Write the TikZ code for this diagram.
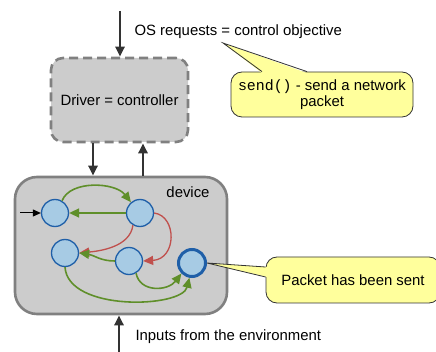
\documentclass[tikz,border=0pt]{standalone}
\usepackage{fontspec}
\setmainfont{Liberation Sans}
\setmonofont{Liberation Mono}
\usetikzlibrary{arrows.meta,calc}

\definecolor{boxgray}{HTML}{CCCCCC}
\definecolor{edgegray}{HTML}{808080}
\definecolor{darkarrow}{HTML}{333333}
\definecolor{statefill}{HTML}{A7CBE4}
\definecolor{stateline}{HTML}{1F5FA8}
\definecolor{gotogreen}{HTML}{5F8F2A}
\definecolor{gotored}{HTML}{C0504D}
\definecolor{noteyellow}{HTML}{FFFF9C}

\begin{document}
\begin{tikzpicture}[x=1pt,y=-1pt,
  font=\fontsize{14.9}{16}\selectfont,
  state/.style={circle, draw=stateline, fill=statefill, line width=1.3pt,
    minimum size=27pt, inner sep=0pt},
  finalstate/.style={state, line width=3pt, minimum size=27pt},
  flow/.style={draw=darkarrow, line width=2.7pt,
    -{Triangle[length=10pt,width=9pt]}},
  okmove/.style={draw=gotogreen, line width=1.6pt,
    -{Triangle[length=10pt,width=9pt,fill=gotogreen]}},
  failmove/.style={draw=gotored, line width=1.3pt,
    -{Triangle[length=10pt,width=9pt,fill=gotored]}},
  notebox/.style={draw=darkarrow, line width=0.8pt, fill=noteyellow,
    rounded corners=11pt, inner sep=0pt, align=center},
  noteside/.style={draw=darkarrow, line width=0.8pt, line join=miter},
]
\useasboundingbox (0,0) rectangle (436,352);

% controller and device boxes
\node[draw=edgegray, line width=2.6pt, dash pattern=on 9pt off 5pt,
      fill=boxgray, rounded corners=12pt, minimum width=137pt,
      minimum height=84pt, inner sep=0pt] (driver) at (119.5,100)
      {Driver = controller};
\node[draw=edgegray, line width=2.6pt, fill=boxgray, rounded corners=22pt,
      minimum width=212pt, minimum height=137pt] (device) at (121,245.5) {};
\node (devlabel) at (188,192) {device};

% signals between OS, driver, device and environment
\coordinate (osin) at (120,11);
\coordinate (cmdx) at (93,0);
\coordinate (statx) at (143,0);
\coordinate (envin) at (119,352);
\draw[flow] (osin) -- (osin |- driver.north);
\draw[flow] (driver.south -| cmdx) -- (device.north -| cmdx);
\draw[flow] (device.north -| statx) -- (driver.south -| statx);
\draw[flow] (envin) -- (envin |- device.south);

\node[anchor=west] (ostext) at (131,32) {OS requests = control objective};
\node[anchor=west] (envtext) at (132,337) {Inputs from the environment};

% state machine of the device
\node[state] (n1) at (55,213) {};
\node[state] (n2) at (140,213) {};
\node[state] (n3) at (65,253) {};
\node[state] (n4) at (129,261) {};
\node[finalstate] (n5) at (192,263) {};

\coordinate (start) at (20,213);
\draw[line width=1pt, -{Triangle[length=8pt,width=7pt]}] (start) -- (n1.west);

\draw[okmove] (n1.60) .. controls (70,180) and (115,182) .. (n2.130);
\draw[okmove] (n2.west) -- (n1.east);
\draw[failmove] (n2.240) .. controls (130,247) and (100,251) .. (n3.east);
\draw[failmove] (n2.east) .. controls (177,216) and (177,259) .. (n4.east);
\draw[okmove] (n4.west) .. controls (100,261) and (94,255) .. (n3.east);
\draw[okmove] (n4.300) .. controls (140,293) and (168,291) .. (n5.225);
\draw[okmove] (n3.south) .. controls (68,312) and (182,308) .. (n5.260);

% callout: send()
\coordinate (ostip) at (223,43);
\node[notebox, minimum width=182pt, minimum height=45pt] (sendnote)
  at (322,94.5) {\texttt{send()} - send a network\\packet};
\fill[noteyellow] ($(sendnote.north)+(-60,1.5)$) -- (ostip)
  -- ($(sendnote.north)+(-15,1.5)$) -- cycle;
\draw[noteside] ($(sendnote.north)+(-60,0)$) -- (ostip)
  -- ($(sendnote.north)+(-15,0)$);

% callout: packet sent
\node[notebox, minimum width=174pt, minimum height=46pt] (sentnote)
  at (353,280) {Packet has been sent};
\fill[noteyellow] ($(sentnote.west)+(1.5,-13)$) -- (n5.east)
  -- ($(sentnote.west)+(1.5,-3)$) -- cycle;
\draw[noteside] ($(sentnote.west)+(0,-13)$) -- (n5.east)
  -- ($(sentnote.west)+(0,-3)$);
\end{tikzpicture}
\end{document}
